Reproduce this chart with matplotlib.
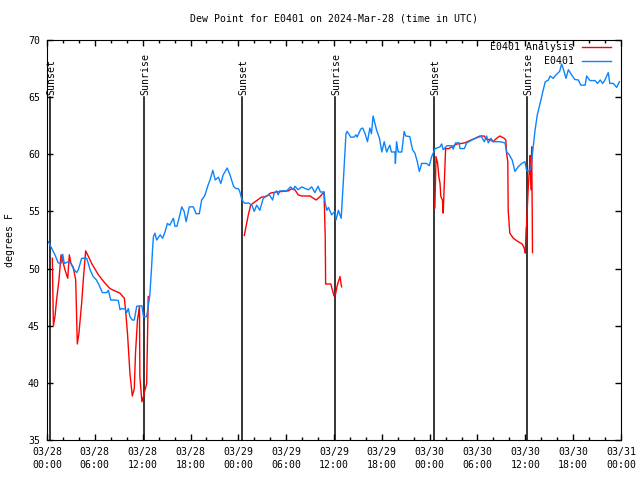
import numpy as np
import matplotlib
matplotlib.use("Agg")
import matplotlib.pyplot as plt

# hours since 2024-03-28 00:00 UTC, dew point in deg F
obs_h = [0.17, 0.5, 1.0, 1.4, 1.76, 1.97, 2.17, 2.67, 3.0, 3.3, 3.72, 3.93, 4.35, 4.97, 5.18,
         5.4, 5.8, 6.2, 6.5, 6.94, 7.5, 7.7, 8.0, 8.5, 8.95, 9.16, 9.37, 9.8, 10.0, 10.2,
         10.4, 10.7, 10.95, 11.25, 11.9, 12.1, 12.5, 12.7, 12.9, 13.1, 13.25, 13.35, 13.55,
         13.75, 14.2, 14.5, 14.8, 15.1, 15.4, 15.85, 16.05, 16.3, 16.7, 16.9, 17.2, 17.45,
         17.85, 18.35, 18.7, 19.1, 19.4, 19.8, 20.2, 20.45, 20.8, 21.1, 21.5, 21.8, 22.1,
         22.6, 22.95, 23.4, 23.7, 24.0, 24.2, 24.4, 24.6, 24.85, 25.25, 25.7, 26.0, 26.3,
         26.7, 27.1, 27.45, 27.9, 28.3, 28.5, 28.8, 29.0, 29.2, 30.05, 30.55, 30.9, 31.1,
         31.5, 31.95, 32.4, 32.8, 33.2, 33.6, 34.0, 34.3, 34.75, 34.9, 35.1, 35.3, 35.7,
         36.1, 36.25, 36.55, 36.9, 37.2, 37.5, 37.65, 38.1, 38.5, 38.75, 38.9, 39.35, 39.6,
         39.9, 40.2, 40.5, 40.7, 40.9, 41.35, 41.7, 42.0, 42.3, 42.6, 43.0, 43.2, 43.65,
         43.7, 43.85, 44.05, 44.5, 44.8, 45.0, 45.5, 45.85, 46.15, 46.45, 46.7, 47.0, 47.6,
         47.95, 48.25, 48.7, 49.3, 49.5, 49.7, 50.15, 50.75, 50.95, 51.25, 51.7, 51.8,
         52.35, 52.65, 53.3, 54.1, 54.5, 54.85, 55.15, 55.35, 55.7, 55.95, 56.4, 56.8,
         57.45, 57.65, 57.95, 58.35, 58.7, 59.1, 59.55, 59.95, 60.15, 60.45, 60.7, 60.9,
         61.2, 61.5, 61.85, 62.2, 62.5, 62.9, 63.1, 63.5, 63.85, 64.3, 64.55, 64.75, 65.1,
         65.4, 65.8, 66.2, 66.65, 66.95, 67.5, 67.7, 68.1, 68.75, 69.05, 69.4, 69.7, 69.95,
         70.4, 70.6, 71.05, 71.45, 71.8]
obs_v = [52.35, 51.9, 51.2, 50.5, 50.45, 51.25, 50.45, 50.6, 50.45, 50.0, 49.65, 49.9, 50.9,
         50.9, 50.45, 49.9, 49.3, 49.0, 48.6, 47.9, 47.9, 48.1, 47.25, 47.25, 47.2, 46.4,
         46.5, 46.45, 46.15, 46.5, 45.8, 45.5, 45.5, 46.7, 46.75, 45.8, 45.8, 46.7, 47.7,
         49.9, 51.8, 52.8, 53.1, 52.5, 52.95, 52.65, 53.2, 53.95, 53.8, 54.4, 53.7, 53.7,
         54.8, 55.4, 55.0, 54.1, 55.4, 55.4, 54.8, 54.8, 56.0, 56.4, 57.3, 57.75, 58.6,
         57.75, 58.0, 57.45, 58.2, 58.8, 58.2, 57.2, 57.0, 57.0, 56.7, 56.15, 55.85, 55.7,
         55.75, 55.55, 55.0, 55.55, 55.1, 56.1, 56.35, 56.45, 56.0, 56.6, 56.8, 56.45, 56.8,
         56.8, 57.15, 56.9, 57.2, 56.9, 57.15, 57.0, 56.9, 57.15, 56.65, 57.2, 56.7, 56.7,
         55.7, 55.1, 55.35, 54.7, 55.0, 54.25, 55.1, 54.4, 58.0, 61.8, 62.0, 61.5, 61.5,
         61.7, 61.5, 62.2, 62.3, 61.8, 61.1, 62.3, 61.8, 63.35, 62.1, 61.4, 60.2, 61.1,
         60.2, 60.8, 60.2, 60.2, 59.2, 61.1, 60.2, 60.2, 62.0, 61.6, 61.55, 60.4, 60.1,
         59.35, 58.5, 59.2, 59.2, 59.0, 59.8, 60.5, 60.65, 60.9, 60.4, 60.75, 60.75, 60.45,
         61.0, 61.0, 60.5, 60.5, 61.0, 61.25, 61.5, 61.55, 61.1, 61.6, 61.0, 61.4, 61.1,
         61.1, 61.1, 61.0, 60.2, 60.0, 59.5, 58.5, 58.9, 59.2, 59.35, 58.6, 58.5, 58.8,
         60.1, 62.0, 63.45, 64.45, 65.5, 66.35, 66.5, 66.85, 66.65, 66.95, 67.25, 67.9,
         67.5, 66.65, 67.4, 66.95, 66.55, 66.5, 66.05, 66.05, 66.85, 66.45, 66.45, 66.2,
         66.5, 66.2, 66.45, 67.15, 66.2, 66.2, 65.85, 66.35]

nan = float("nan")
ana_h = [0.67, 0.8, 1.0, 1.2, 1.5, 1.76, 2.05, 2.25, 2.6, 2.8, 3.0, 3.3, 3.6, 3.8, 4.0, 4.35,
         4.55, 4.85, 5.2, 5.6, 6.45, 7.3, 7.9, 8.5, 9.15, 9.7, 9.85, 10.1, 10.4, 10.7, 10.95,
         11.1, 11.35, 11.6, 11.65, 11.9, 12.1, 12.3, 12.5, 12.7, 18.0,
         24.75, 25.25, 25.55, 25.9, 26.3, 26.9, 27.5, 28.0, 28.8, 30.3, 30.7, 31.1, 31.5,
         31.95, 33.0, 33.75, 34.25, 34.75, 34.9, 34.95, 35.6, 35.85, 36.0, 36.2, 36.4,
         36.75, 36.95, 42.0,
         48.65, 48.8, 49.0, 49.15, 49.3, 49.4, 49.6, 49.7, 49.85, 50.0, 50.4, 50.75, 51.4,
         52.0, 52.4, 53.05, 53.7, 54.3, 54.85, 55.1, 55.55, 55.95, 56.4, 56.8, 57.35,
         57.55, 57.65, 57.8, 57.85, 58.05, 58.5, 59.1, 59.6, 59.85, 60.0, 60.1, 60.15,
         60.35, 60.5, 60.6, 60.7, 60.8, 60.9]
ana_v = [50.9, 45.0, 45.8, 47.25, 49.0, 51.2, 50.45, 49.9, 49.15, 51.2, 50.45, 50.1, 49.0,
         43.4, 44.3, 47.0, 49.0, 51.55, 51.05, 50.45, 49.45, 48.7, 48.25, 48.05, 47.85,
         47.4, 46.4, 44.3, 40.85, 38.85, 39.5, 42.6, 45.5, 46.7, 40.55, 38.35, 38.8, 39.4,
         39.9, 47.55, nan,
         52.9, 54.7, 55.55, 55.75, 55.95, 56.25, 56.3, 56.6, 56.7, 56.8, 57.0, 56.9, 56.45,
         56.35, 56.35, 56.0, 56.3, 56.7, 52.7, 48.65, 48.65, 48.0, 47.6, 47.8, 48.5, 49.3,
         48.4, nan,
         55.3, 59.8, 59.2, 58.05, 57.45, 56.3, 56.0, 54.85, 57.75, 60.5, 60.5, 60.65, 60.9,
         60.95, 61.0, 61.2, 61.4, 61.6, 61.6, 61.3, 61.3, 61.1, 61.4, 61.6, 61.4, 61.25,
         60.1, 59.35, 55.1, 53.1, 52.65, 52.35, 52.15, 51.8, 51.35, 53.5, 53.7, 56.9,
         58.6, 59.9, 56.9, 60.65, 51.4]

sun_h = [0.38, 12.17, 24.46, 36.13, 48.55, 60.2]
sun_lbl = ["Sunset", "Sunrise", "Sunset", "Sunrise", "Sunset", "Sunrise"]

tick_h = [0, 6, 12, 18, 24, 30, 36, 42, 48, 54, 60, 66, 72]
tick_lbl = ["03/28\n00:00", "03/28\n06:00", "03/28\n12:00", "03/28\n18:00",
            "03/29\n00:00", "03/29\n06:00", "03/29\n12:00", "03/29\n18:00",
            "03/30\n00:00", "03/30\n06:00", "03/30\n12:00", "03/30\n18:00",
            "03/31\n00:00"]

plt.rcParams["font.family"] = ["DejaVu Sans Mono"]
plt.rcParams["font.size"] = 7.1

fig = plt.figure(figsize=(6.4, 4.8), dpi=100)
ax = fig.add_axes([47 / 640, 40 / 480, 574 / 640, 400 / 480])

for h, lbl in zip(sun_h, sun_lbl):
    ax.plot([h, h], [35, 65], color="black", lw=1.1)
    ax.text(h + 0.15, 65.2, lbl, rotation=90, ha="center", va="bottom")

ax.plot(ana_h, ana_v, color="#ff0000", lw=1.0, label="E0401 Analysis")
ax.plot(obs_h, obs_v, color="#0a84ff", lw=1.0, label="E0401")

ax.set_xlim(0, 72)
ax.set_ylim(35, 70)
ax.set_xticks(tick_h)
ax.set_xticklabels(tick_lbl, linespacing=1.35)
ax.set_xticks(np.arange(0, 73, 2), minor=True)
ax.set_yticks(np.arange(35, 71, 5))
ax.tick_params(which="both", direction="in", top=True, right=True, pad=5)
ax.tick_params(which="major", length=4, width=1)
ax.tick_params(which="minor", length=2.5, width=1)

ax.set_title("Dew Point for E0401 on 2024-Mar-28 (time in UTC)", fontsize=7.1, pad=13)
ax.set_ylabel("degrees F")
ax.yaxis.set_label_coords(-0.056, 0.5)

ax.legend(loc="upper right", bbox_to_anchor=(0.983, 0.995), frameon=False,
          markerfirst=False, handlelength=3.0, handletextpad=0.8,
          labelspacing=0.45, borderpad=0, borderaxespad=0)

fig.savefig("out.png", dpi=100)
